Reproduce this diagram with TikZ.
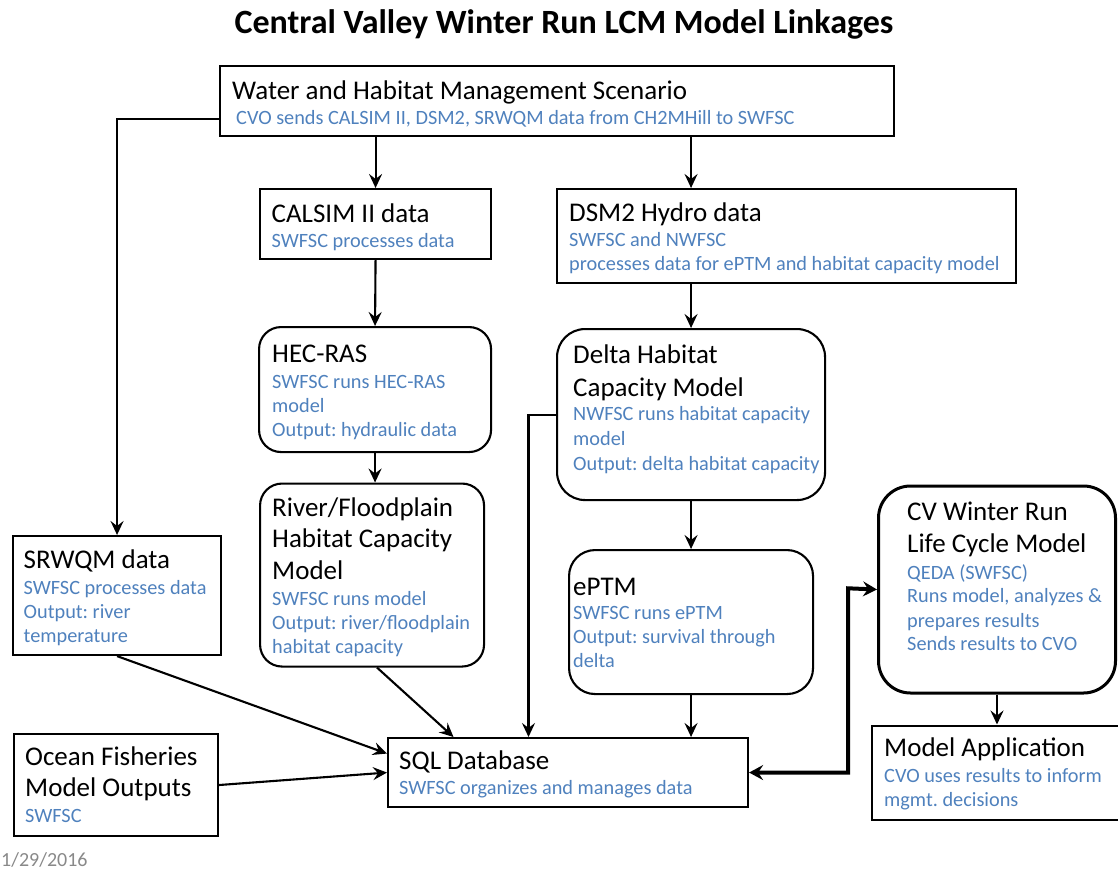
\documentclass[tikz,border=0pt]{standalone}
\usepackage{fontspec}
\setmainfont{Carlito}
\usetikzlibrary{arrows.meta}
\definecolor{offblue}{RGB}{79,129,189}
\definecolor{dategray}{RGB}{137,137,137}
\tikzset{
  box/.style={draw=black, line width=2.1pt, inner sep=0pt, anchor=north west},
  rbox/.style={box, rounded corners=22pt},
  hd/.style={anchor=base west, inner sep=0pt, text=black, font=\fontsize{27}{32}\selectfont},
  ds/.style={anchor=base west, inner sep=0pt, text=offblue, font=\fontsize{20.3}{24}\selectfont},
  arr/.style={line width=2.1pt, -{Stealth[length=14pt, width=13pt, inset=5pt]}},
  biarr/.style={line width=4pt, {Stealth[length=14pt, width=15pt, inset=5pt]}-{Stealth[length=14pt, width=15pt, inset=5pt]}}
}
\begin{document}
\frenchspacing
\begin{tikzpicture}[x=1pt, y=-1pt]
\useasboundingbox (0,0) rectangle (1118,870);
% title
\node[anchor=base, inner sep=0pt, font=\bfseries\fontsize{34}{40}\selectfont] (title) at (564,33) {Central Valley Winter Run LCM Model Linkages};

% boxes
\node[box, minimum width=674pt, minimum height=70pt] (water) at (219,65) {};
\node[box, minimum width=231pt, minimum height=70pt] (calsim) at (259,188) {};
\node[box, minimum width=459pt, minimum height=94pt] (dsm2) at (556,188) {};
\node[rbox, minimum width=232pt, minimum height=125pt] (hec) at (258,326) {};
\node[rbox, minimum width=224pt, minimum height=183pt] (river) at (259,482.5) {};
\node[box, minimum width=208pt, minimum height=119pt] (srwqm) at (12,535) {};
\node[rbox, rounded corners=28pt, minimum width=268pt, minimum height=171pt] (delta) at (556,328) {};
\node[rbox, rounded corners=26pt, minimum width=244pt, minimum height=144pt] (eptm) at (568,549) {};
\node[rbox, rounded corners=32pt, line width=3pt, minimum width=237pt, minimum height=207pt] (cv) at (877,484.5) {};
\node[box, minimum width=360pt, minimum height=69pt] (sql) at (387,737) {};
\node[box, minimum width=204pt, minimum height=102pt] (ocean) at (12.5,733) {};
\node[box, minimum width=260pt, minimum height=94pt] (ma) at (871,724.5) {};

% texts
\node[hd] (waterA) at (232,99.3) {Water and Habitat Management Scenario};
\node[ds] (waterB) at (236,124.3) {CVO sends CALSIM II, DSM2, SRWQM data from CH2MHill to SWFSC};

\node[hd] (calsimA) at (271.5,222) {CALSIM II data};
\node[ds] (calsimB) at (271.5,247.5) {SWFSC processes data};

\node[hd] (dsmA) at (569,221) {DSM2 Hydro data};
\node[ds] (dsmB) at (569,246) {SWFSC and NWFSC};
\node[ds] (dsmC) at (569,270.5) {processes data for ePTM and habitat capacity model};

\node[hd] (hecA) at (272,362.7) {HEC-RAS};
\node[ds] (hecB) at (272,388.3) {SWFSC runs HEC-RAS};
\node[ds] (hecC) at (272,412.3) {model};
\node[ds] (hecD) at (272,436.7) {Output: hydraulic data};

\node[hd] (rivA) at (272,516) {River/Floodplain};
\node[hd] (rivB) at (272,547.7) {Habitat Capacity};
\node[hd] (rivC) at (272,579.3) {Model};
\node[ds] (rivD) at (272,605) {SWFSC runs model};
\node[ds] (rivE) at (272,629.5) {Output: river/floodplain};
\node[ds] (rivF) at (272,653.5) {habitat capacity};

\node[hd] (srA) at (23.5,568.3) {SRWQM data};
\node[ds] (srB) at (23.5,594) {SWFSC processes data};
\node[ds] (srC) at (23.5,618.3) {Output: river};
\node[ds] (srD) at (23.5,642.7) {temperature};

\node[hd] (delA) at (573,363.3) {Delta Habitat};
\node[hd] (delB) at (573,396) {Capacity Model};
\node[ds] (delC) at (573,420.7) {NWFSC runs habitat capacity};
\node[ds] (delD) at (573,445) {model};
\node[ds] (delE) at (573,470) {Output: delta habitat capacity};

\node[hd] (epA) at (573,595) {ePTM};
\node[ds] (epB) at (573,619) {SWFSC runs ePTM};
\node[ds] (epC) at (573,643.5) {Output: survival through};
\node[ds] (epD) at (573,667.7) {delta};

\node[hd] (cvA) at (907,520) {CV Winter Run};
\node[hd] (cvB) at (907,552.3) {Life Cycle Model};
\node[ds] (cvC) at (907,579) {QEDA (SWFSC)};
\node[ds] (cvD) at (907,602.7) {Runs model, analyzes \&};
\node[ds] (cvE) at (907,627.3) {prepares results};
\node[ds] (cvF) at (907,650) {Sends results to CVO};

\node[hd] (sqlA) at (399,769) {SQL Database};
\node[ds] (sqlB) at (399,794) {SWFSC organizes and manages data};

\node[hd] (ocA) at (25,765.7) {Ocean Fisheries};
\node[hd] (ocB) at (25,796.7) {Model Outputs};
\node[ds] (ocC) at (25,822.7) {SWFSC};

\node[hd] (maA) at (884,756.7) {Model Application};
\node[ds] (maB) at (884,782.7) {CVO uses results to inform};
\node[ds] (maC) at (884,806.5) {mgmt. decisions};

\node[anchor=base west, inner sep=0pt, text=dategray, font=\fontsize{20}{24}\selectfont] (date) at (1,866.5) {1/29/2016};

% connector helper coordinates
\coordinate (sqlRiv) at (453.5,737);
\coordinate (sqlDel) at (528.5,737);
\coordinate (bend) at (848,588.3);

% connectors
\draw[arr] (water.south -| calsim.north) -- (calsim.north);
\draw[arr] (water.south -| delta.north) -- (dsm2.north -| delta.north);
\draw[arr] (calsim.south) -- (hec.north);
\draw[arr] (dsm2.south -| delta.north) -- (delta.north);
\draw[arr] (hec.south) -- (hec.south |- river.north);
\draw[arr] (delta.south) -- (delta.south |- eptm.north);
\draw[arr] ([yshift=-18pt]water.west) -| (srwqm.north);
\draw[arr] ([xshift=5pt]river.south) -- (sqlRiv);
\draw[arr] (delta.west) -| (sqlDel);
\draw[arr] (eptm.south -| delta.south) -- (sql.north -| delta.south);
\draw[arr] (srwqm.south) -- ([yshift=19pt]sql.west);
\draw[arr] (ocean.east) -- (sql.west);
\draw[arr] (cv.south) -- (cv.south |- ma.north);
\draw[biarr] (sql.east) -| (bend) -- (cv.west);
\end{tikzpicture}
\end{document}
